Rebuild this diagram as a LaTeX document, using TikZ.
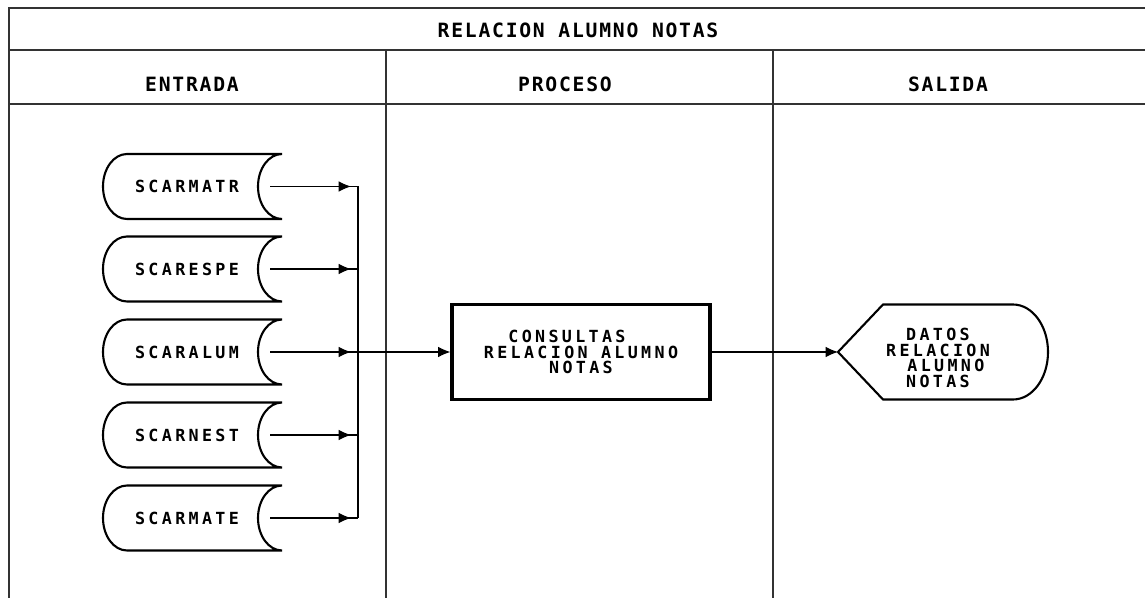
\documentclass[tikz,border=0pt]{standalone}
\usepackage{fontspec}
\usepackage{tikz}
\usetikzlibrary{arrows.meta}
\newfontfamily\plotfont{DejaVu Sans Mono}

\begin{document}
\begin{tikzpicture}[
    x=0.02cm, y=0.02cm,
    marco/.style={line width=0.9pt, black!80},
    cabecera/.style={font=\plotfont\bfseries\fontsize{11.2}{12}\selectfont\addfontfeature{LetterSpace=9}},
    tarjeta/.style={font=\plotfont\bfseries\fontsize{9.5}{8.8}\selectfont\addfontfeature{LetterSpace=20}, inner sep=0pt},
    forma/.style={line width=1.2pt},
    proceso/.style={draw, line width=1.8pt, minimum width=5.16cm, minimum height=1.9cm, align=center,
        font=\plotfont\bfseries\fontsize{9.5}{8.6}\selectfont\addfontfeature{LetterSpace=20}},
    linea/.style={line width=0.6pt},
    flecha/.style={-{Latex[length=7pt, width=6pt]}, line width=0.6pt}
]
    \useasboundingbox (0,0) rectangle (1145,598);

    % Marco
    \draw[marco] (1145,590) -- (9,590) -- (9,0);
    \draw[marco] (9,548) -- (1145,548);
    \draw[marco] (9,494) -- (1145,494);
    \draw[marco] (386,548) -- (386,0);
    \draw[marco] (773,548) -- (773,0);

    % Cabeceras
    \node[cabecera] (titulo) at (578,568) {RELACION ALUMNO NOTAS};
    \node[cabecera] (entrada) at (192,514) {ENTRADA};
    \node[cabecera] (proceso) at (565,514) {PROCESO};
    \node[cabecera] (salida) at (948,514) {SALIDA};

    % Archivos de entrada
    \foreach \nombre/\y in {SCARMATR/411.5, SCARESPE/329, SCARALUM/246, SCARNEST/163, SCARMATE/80}{
        \node[tarjeta] (\nombre) at (187,\y) {\nombre};
        \draw[forma] ([shift={(-60,32.5)}]\nombre.center) -- ++(155,0)
            arc[start angle=90, end angle=270, x radius=24, y radius=32.5] -- ++(-155,0)
            arc[start angle=270, end angle=90, x radius=24, y radius=32.5] -- cycle;
        \coordinate (bus-\nombre) at (358,\y);
        \draw[linea] ([shift={(83,0)}]\nombre.center) -- (bus-\nombre);
        \draw[flecha] ([shift={(83,0)}]\nombre.center) -- ([shift={(-7,0)}]bus-\nombre);
    }
    \draw[linea] (bus-SCARMATR) -- (bus-SCARMATE);

    % Proceso
    \node[proceso] (consulta) at (581,246) {CONSULTAS\kern16pt\\RELACION ALUMNO\\NOTAS};
    \draw[flecha] (bus-SCARALUM) -- (consulta.west);

    % Salida
    \node[tarjeta, align=center] (datos) at (938,240) {DATOS\\RELACION\\\hspace*{9pt}ALUMNO\\NOTAS};
    \draw[forma] ([shift={(-100,6)}]datos.center) -- ++(45,47.5) -- ++(130,0)
        arc[start angle=90, end angle=-90, x radius=35, y radius=47.5] -- ++(-130,0) -- cycle;
    \coordinate (entrada-datos) at (838,246);
    \draw[flecha] (consulta.east) -- (entrada-datos);
\end{tikzpicture}
\end{document}
